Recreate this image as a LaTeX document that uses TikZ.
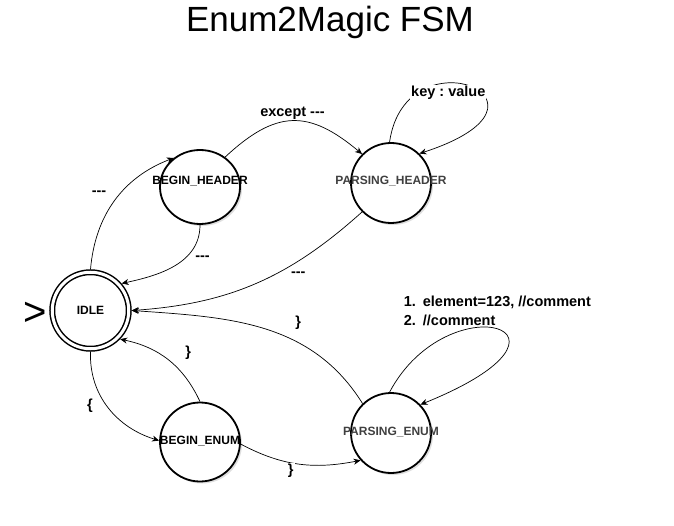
\documentclass[tikz,border=0pt]{standalone}
\usepackage{fontspec}
\setmainfont{Liberation Sans}[Ligatures=TeXOff]
\usepackage{tikz}
\usetikzlibrary{arrows.meta,shadows,shapes.geometric,positioning}
\newcommand{\Name}[1]{{\fontsize{12}{14}\selectfont\bfseries #1}}
\frenchspacing

\begin{document}
\begin{tikzpicture}[
                    >={Stealth[length=7pt,width=6pt,inset=2.2pt]},
                x=1pt, y=1pt,
                state/.style={ellipse, draw, line width=1.8pt, fill=white,
                    minimum width=80pt, minimum height=80pt, inner sep=0pt,
                    drop shadow={shadow xshift=2pt, shadow yshift=-2pt, opacity=0.25}},
                lbl/.style={font=\fontsize{14.5}{18.3}\selectfont\bfseries, inner sep=1pt, anchor=base},
                lblw/.style={lbl, fill=white},
                edge/.style={->, line width=0.7pt}]

                \path[fill=white, use as bounding box] (0,0) rectangle (674,-526);

                \draw(330,-32) node[anchor=base, font=\fontsize{35}{40}\selectfont] (title) {Enum2Magic FSM};

                \draw(90.5,-310.5) node[state, ellipse, minimum width=76.5pt, minimum height=76.5pt,
                    line width=1.5pt, double, double distance=3pt, outer sep=3pt] (idle) {};
                \draw(200,-187) node[state, minimum height=74pt] (bh) {};
                \draw(391,-183) node[state] (ph) {};
                \draw(200,-442) node[state, minimum height=79pt] (be) {};
                \draw(391,-433) node[state] (pe) {};

                \draw(35.5,-326) node[anchor=base, font=\fontsize{40}{40}\selectfont] (init) {>};
                \draw(90.5,-314.3) node[anchor=base] (idle-t) {\Name{IDLE}};
                \draw(200,-184.3) node[anchor=base] (bh-t) {\Name{BEGIN\_HEADER}};
                \draw(391,-185) node[anchor=base, text=black!75] (ph-t) {\Name{PARSING\_HEADER}};
                \draw(200,-444.3) node[anchor=base] (be-t) {\Name{BEGIN\_ENUM}};
                \draw(391,-435) node[anchor=base, text=black!75] (pe-t) {\Name{PARSING\_ENUM}};

                \draw[edge] (idle.north) to[out=85, in=201] (bh.132);
                \draw[edge] (bh.south) to[out=270, in=12] (idle.41);
                \draw[edge] (bh.50) to[out=43, in=140, looseness=1.3] (ph.135);
                \draw[edge] (ph.92) to[out=82, in=18, out distance=113pt, in distance=168pt] (ph.46);
                \draw[edge] (ph.225) to[out=222, in=4] (idle.east);
                \draw[edge] (pe.134) to[out=122, in=356] (idle.east);
                \draw[edge] (pe.92) to[out=62, in=22, out distance=125pt, in distance=200pt] (pe.44);
                \draw[edge] (be.north) to[out=115, in=348] (idle.316);
                \draw[edge] (idle.south) to[out=268, in=163] (be.178);
                \draw[edge] (be.357) to[out=-28, in=191] (pe.222);

                \draw(99,-195.5) node[lbl] (l-ibh) {---};
                \draw(202.5,-260.5) node[lbl] (l-bhi) {---};
                \draw(292.5,-117) node[lbl] (l-bhph) {except ---};
                \draw(448.3,-96.7) node[lblw] (l-ph) {key : value};
                \draw(298.3,-277) node[lbl] (l-phi) {---};
                \draw(298.3,-326.5) node[lbl] (l-pei) {\}};
                \draw(188.3,-356) node[lbl] (l-bei) {\}};
                \draw(90,-409) node[lbl] (l-ibe) {\{};
                \draw(290.8,-474.5) node[lblw] (l-bepe) {\}};
                \draw(402.7,-325) node[lbl, anchor=base west, align=left] (l-pe)
                    {\makebox[19pt][l]{1.}element=123, //comment\\\makebox[19pt][l]{2.}//comment};

            \end{tikzpicture}
\end{document}
